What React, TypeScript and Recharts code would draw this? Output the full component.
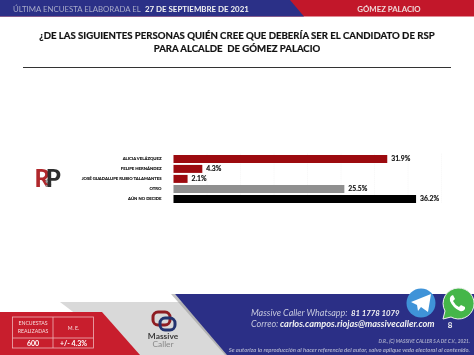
import { BarChart, Bar, XAxis, YAxis, CartesianGrid, Cell, LabelList } from 'recharts'

const candidates = [
  'ALICIA VELÁZQUEZ',
  'FELIPE HERNÁNDEZ',
  'JOSÉ GUADALUPE RUBIO TALAMANTES',
  'OTRO',
  'AÚN NO DECIDE',
]
const percents = [31.9, 4.3, 2.1, 25.5, 36.2]
const barColors = ['#9c0a0f', '#9c0a0f', '#9c0a0f', '#8f8f8f', '#000000']
const axisTicks = [0, 5, 10, 15, 20, 25, 30, 35, 40]

const chartData = candidates.map((name, i) => ({ name, value: percents[i] }))

const FONT = 'Lato, "Open Sans", sans-serif'

// tick propio: el de recharts parte en dos lineas el nombre largo
function NameTick({ x, y, payload }: { x?: number; y?: number; payload?: { value: string } }) {
  return (
    <text
      x={(x ?? 0) - 4}
      y={(y ?? 0) + 1.6}
      textAnchor="end"
      fontSize={4.25}
      fontWeight={700}
      fill="#111111"
      stroke="#111111"
      strokeWidth={0.12}
      fontFamily={FONT}
    >
      {payload?.value}
    </text>
  )
}

function Backdrop() {
  return (
    <svg width={474} height={355} style={{ position: 'absolute', left: 0, top: 0 }} fontFamily={FONT}>
      <rect width={474} height={355} fill="#ffffff" />

      {/* franja superior */}
      <rect width={474} height={16.5} fill="#c2172a" />
      <polygon points="0,0 290,0 304,16.5 0,16.5" fill="#2b3087" />
      <text x={13} y={11.5} fontSize={7.8} fill="#a9abc9">ÚLTIMA ENCUESTA ELABORADA EL</text>
      <text x={145} y={11.5} fontSize={7.9} fontWeight={700} fill="#f2f2f2">27 DE SEPTIEMBRE DE 2021</text>
      <text x={389} y={11.5} fontSize={7.8} fontWeight={700} fill="#f0d8d8" textAnchor="middle">GÓMEZ PALACIO</text>

      {/* titulo */}
      <g fontSize={9.6} fontWeight={700} fill="#111111" stroke="#111111" strokeWidth={0.2} textAnchor="middle">
        <text x={237} y={39}>
          ¿DE LAS SIGUIENTES PERSONAS QUIÉN CREE QUE DEBERÍA SER EL CANDIDATO DE RSP
        </text>
        <text x={237} y={51.5} xmlSpace="preserve">
          PARA ALCALDE  DE GÓMEZ PALACIO
        </text>
      </g>
      <line x1={23} x2={451} y1={67.5} y2={67.5} stroke="#333333" strokeWidth={1} />

      {/* logo RSP */}
      <text x={34.5} y={187} fontSize={24} fontWeight={900} letterSpacing={-3}>
        <tspan fill="#b0282c">R</tspan>
        <tspan fill="#9a9a9a" fontSize={12} dx={-2}>S</tspan>
        <tspan fill="#2f2f2f" dx={-3}>P</tspan>
      </text>

      {/* pie de pagina */}
      <polygon points="60,302 190,302 232,355 130,355" fill="#d9d9d9" />
      <polygon points="171,294 175,294 229,355 225,355" fill="#9a9a9a" opacity={0.6} />
      <polygon points="175,294 474,294 474,355 227,355" fill="#2b2f86" />
      <polygon points="0,312 102,312 140,355 0,355" fill="#c81e2d" />

      {/* tabla encuestas */}
      <g stroke="#eeb4b8" strokeWidth={0.8} fill="none">
        <rect x={12.5} y={317} width={81} height={31} />
        <line x1={53} x2={53} y1={317} y2={348} />
        <line x1={12.5} x2={93.5} y1={338} y2={338} />
      </g>
      <g textAnchor="middle" fill="#f6dcdd">
        <text x={33} y={325} fontSize={5.2}>ENCUESTAS</text>
        <text x={33} y={332.5} fontSize={5.2}>REALIZADAS</text>
        <text x={73.5} y={329.5} fontSize={5.2}>M. E.</text>
        <text x={33} y={345.5} fontSize={7} fontWeight={700} fill="#ffffff">600</text>
        <text x={73.5} y={345.5} fontSize={7} fontWeight={700} fill="#ffffff">+/- 4.3%</text>
      </g>

      {/* logo Massive Caller */}
      <g fill="none" strokeWidth={3}>
        <rect x={153} y={312} width={17} height={13} rx={5} stroke="#8f1d22" />
        <rect x={160} y={318} width={15} height={12} rx={5} stroke="#23336f" />
      </g>
      <text textAnchor="middle" fontSize={8.4}>
        <tspan x={163} y={338.5} fontWeight={700} fill="#3a3a3a">Massive</tspan>
        <tspan x={163} y={346.5} fill="#8a8a8a">Caller</tspan>
      </text>

      {/* contacto */}
      <text x={251} y={316} fontSize={9} fontStyle="italic" fill="#c5c7dd">Massive Caller Whatsapp:</text>
      <text x={351} y={316} fontSize={7.8} fontStyle="italic" fontWeight={700} fill="#f2f2f2">81 1778 1079</text>
      <text x={251} y={327} fontSize={9} fontStyle="italic" fill="#c5c7dd">Correo:</text>
      <text x={280} y={327} fontSize={9.2} fontStyle="italic" fontWeight={700} fill="#f2f2f2">carlos.campos.riojas@massivecaller.com</text>
      <text x={450} y={328} fontSize={8} fontWeight={700} fill="#f2f2f2" textAnchor="middle">8</text>
      <text x={470} y={343} fontSize={4.8} fontStyle="italic" fontWeight={700} fill="#a9abc9" textAnchor="end">D.R., (C) MASSIVE CALLER S.A DE C.V., 2021.</text>
      <text x={470} y={352} fontSize={5.9} fontStyle="italic" fontWeight={700} fill="#a9abc9" textAnchor="end">Se autoriza la reproducción al hacer referencia del autor, salvo aplique veda electoral al contenido.</text>

      {/* telegram */}
      <circle cx={421} cy={303} r={14.5} fill="#3f93d8" />
      <polygon points="411,302 431,294 428,312 421,307 418,311 417,305" fill="#ffffff" />

      {/* whatsapp */}
      <path d="M458,288 a15.5,15.5 0 1 1 -7,29 l-8,2 l2,-8 a15.5,15.5 0 0 1 13,-23 z" fill="#45b649" stroke="#f0f0f0" strokeWidth={1} />
      <path d="M451,296 q-2,2 -1,5 q3,7 10,10 q3,1 5,-2 l0,-2 l-4,-2 l-2,2 q-4,-2 -6,-6 l2,-2 l-2,-4 z" fill="#ffffff" />
    </svg>
  )
}

export default function App() {
  return (
    <div style={{ position: 'absolute', left: 0, top: 0, width: 474, height: 355, overflow: 'hidden', filter: 'blur(0.3px)' }}>
      <Backdrop />
      <div style={{ position: 'absolute', left: 0, top: 0 }}>
        <BarChart
          width={474}
          height={355}
          data={chartData}
          layout="vertical"
          barCategoryGap={1.2}
          margin={{ top: 153.7, right: 32.5, bottom: 151.3, left: 8.5 }}
        >
          <CartesianGrid horizontal={false} stroke="#ececec" strokeWidth={0.5} strokeDasharray="1 1" />
          <XAxis type="number" domain={[0, 40]} ticks={axisTicks} hide />
          <YAxis
            type="category"
            dataKey="name"
            width={165}
            interval={0}
            axisLine={false}
            tickLine={false}
            tick={<NameTick />}
          />
          <Bar dataKey="value" isAnimationActive={false}>
            {chartData.map((d, i) => (
              <Cell key={d.name} fill={barColors[i]} />
            ))}
            <LabelList
              dataKey="value"
              position="right"
              offset={4}
              formatter={(v: unknown) => `${v}%`}
              style={{ fontSize: 6.8, fontWeight: 700, fill: '#111111', stroke: '#111111', strokeWidth: 0.15, fontFamily: FONT }}
            />
          </Bar>
        </BarChart>
      </div>
    </div>
  )
}
